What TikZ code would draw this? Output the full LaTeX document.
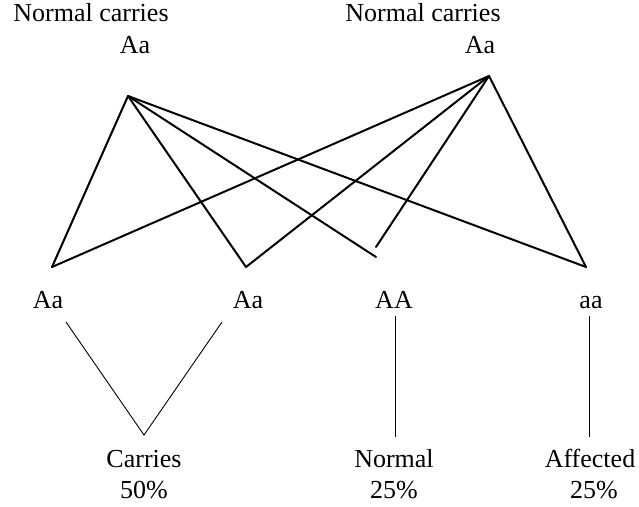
\documentclass[tikz,border=0pt]{standalone}
\usepackage{fontspec}
\setmainfont{Liberation Serif}
\begin{document}
\begin{tikzpicture}[x=1pt,y=-1pt,
  lbl/.style={inner sep=0pt, anchor=base, font=\fontsize{26}{30}\selectfont},
  cross/.style={line width=2pt, line join=round, line cap=round},
  link/.style={line width=0.9pt}]
\useasboundingbox (0,0) rectangle (639,506);

% parents
\node[lbl] (p1t) at (91,21) {Normal carries};
\node[lbl] (p1)  at (135,53) {Aa};
\node[lbl] (p2t) at (423,21) {Normal carries};
\node[lbl] (p2)  at (480,53) {Aa};

% crossing points of the gametes
\coordinate (m1) at (128,96);
\coordinate (m2) at (489,76);
\coordinate (k1) at (52,267);
\coordinate (k2) at (246,267);
\coordinate (k3a) at (376,257);
\coordinate (k3b) at (376,247);
\coordinate (k4) at (586,267);

\draw[cross] (m1) -- (k1);
\draw[cross] (m1) -- (k2);
\draw[cross] (m1) -- (k3a);
\draw[cross] (m1) -- (k4);
\draw[cross] (m2) -- (k1);
\draw[cross] (m2) -- (k2);
\draw[cross] (m2) -- (k3b);
\draw[cross] (m2) -- (k4);

% offspring genotypes
\node[lbl] (c1) at (48,308) {Aa};
\node[lbl] (c2) at (248,308) {Aa};
\node[lbl] (c3) at (394,308) {AA};
\node[lbl] (c4) at (591,308) {aa};

% grouping lines
\coordinate (v1) at (66,322);
\coordinate (v2) at (222,322);
\coordinate (vb) at (144,435);
\coordinate (n1) at (395,316);
\coordinate (n2) at (395,437);
\coordinate (f1) at (589,316);
\coordinate (f2) at (589,437);
\draw[link] (v1) -- (vb) -- (v2);
\draw[link] (n1) -- (n2);
\draw[link] (f1) -- (f2);

% phenotypes
\node[lbl] (r1) at (144,467) {Carries};
\node[lbl] (r1p) at (144,498) {50\%};
\node[lbl] (r2) at (394,467) {Normal};
\node[lbl] (r2p) at (394,498) {25\%};
\node[lbl] (r3) at (590,467) {Affected};
\node[lbl] (r3p) at (594,498) {25\%};
\end{tikzpicture}
\end{document}
